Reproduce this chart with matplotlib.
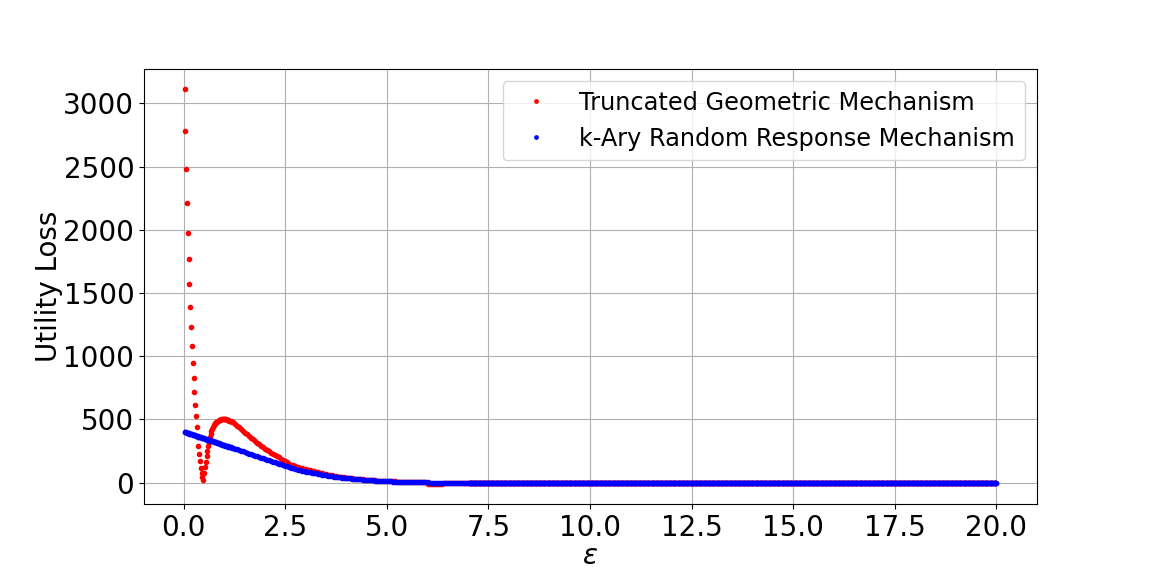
import numpy as np
import matplotlib
matplotlib.use('Agg')
import matplotlib.pyplot as plt

# epsilon grids (fine steps near 0, coarser in the middle, fine again in the flat tail)
eps_head = np.round(np.arange(0.02, 1.201, 0.02), 2)
eps_mid = np.round(np.arange(1.25, 7.001, 0.05), 2)
eps_tail = np.round(np.arange(7.02, 20.001, 0.02), 2)

# Truncated Geometric Mechanism
geo_head = [3114, 2783, 2483, 2215, 1978, 1765, 1568, 1386, 1228, 1079,
            944, 826, 716, 613, 526, 442, 361, 294, 226, 168,
            118, 77, 45, 24,
            75, 124, 165, 208, 248, 288, 325, 358, 385, 408,
            426, 441, 453, 463, 471, 478, 484, 489, 493, 496,
            499, 501, 502, 503, 503, 503, 502, 501, 499, 497,
            494, 491, 488, 485, 481, 478]
geo_mid = [466, 452, 438, 424, 410, 396, 382, 368, 355, 342,
           329, 316, 304, 292, 281, 270, 259, 248, 238, 228,
           218, 209, 200, 190, 180, 170, 160, 150, 143, 137,
           131, 125, 120, 115, 110, 106, 101, 97, 93, 89,
           85, 81, 78, 74, 71, 67, 64, 61, 58, 55,
           52, 49, 47, 44, 42, 40, 38, 36, 34, 32,
           30, 29, 27, 26, 24, 23, 22, 20, 19, 18,
           17, 16, 15, 14, 13, 13, 12, 11, 11, 10,
           9, 9, 8, 7, 7, 6, 6, 5, 5, 4,
           4, 3, 3, 2, 2, -12, -12, -12, -12, -12,
           -12, -12, -12, 0, 0, 0, 0, 0, 0, 0,
           0, 0, 0, 0, 0, 0]

# k-Ary Random Response Mechanism
rr_head = [402, 400, 398, 395, 393, 391, 389, 387, 385, 382,
           380, 378, 376, 374, 372, 369, 367, 365, 363, 361,
           359, 356, 354, 352, 350, 348, 346, 344, 341, 339,
           337, 335, 333, 331, 328, 326, 324, 322, 320, 318,
           315, 313, 311, 309, 307, 305, 302, 300, 298, 296,
           294, 292, 290, 287, 285, 283, 281, 279, 277, 274]
rr_mid = [269, 264, 258, 253, 247, 242, 237, 231, 226, 220,
          215, 210, 204, 199, 193, 188, 183, 177, 172, 166,
          161, 156, 150, 145, 139, 134, 129, 124, 119, 114,
          109, 104, 99, 95, 91, 88, 85, 82, 79, 76,
          73, 70, 67, 64, 61, 59, 56, 54, 51, 49,
          47, 45, 43, 41, 39, 38, 36, 35, 33, 31,
          30, 28, 27, 25, 24, 22, 21, 19, 18, 16,
          15, 14, 13, 12, 12, 11, 10, 10, 9, 9,
          8, 8, 7, 7, 6, 6, 5, 5, 4, 4,
          3, 3, 3, 2, 2, 2, 1, 1, 1, 1,
          1, 0, 0, 0, 0, 0, 0, 0, 0, 0,
          0, 0, 0, 0, 0, 0]

# both curves sit on 0 from eps = 7 onwards
geo_tail = np.zeros(len(eps_tail))
rr_tail = np.zeros(len(eps_tail))

eps = np.concatenate([eps_head, eps_mid, eps_tail])
geo = np.concatenate([geo_head, geo_mid, geo_tail])
rr = np.concatenate([rr_head, rr_mid, rr_tail])

plt.figure(figsize=(11.52, 5.76), dpi=100)
plt.plot(eps, geo, 'r.', label='Truncated Geometric Mechanism')
plt.plot(eps, rr, 'b.', label='k-Ary Random Response Mechanism')
plt.xlabel(r'$\epsilon$', fontsize=20, labelpad=0)
plt.ylabel('Utility Loss', fontsize=20, labelpad=0)
plt.xticks(fontsize=20)
plt.yticks(fontsize=20)
plt.grid(True)
plt.legend(fontsize=17.28, loc='upper right', markerscale=0.8)
plt.subplots_adjust(left=0.125, right=0.9, bottom=0.125, top=0.88)
plt.savefig('out.png', dpi=100)
